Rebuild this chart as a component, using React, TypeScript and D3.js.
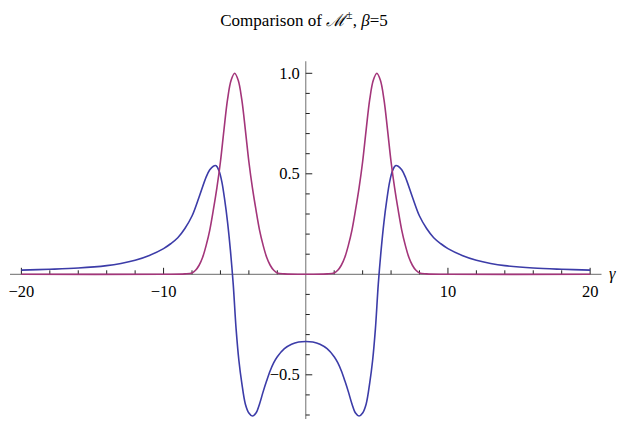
import React from "react";
import * as d3 from "d3";

// blue curve
const blueGamma = [
  -20, -18, -16, -14, -13, -12, -11, -10, -9.5, -9, -8.5, -8, -7.5, -7, -6.75, -6.5, -6.3, -6.1, -5.9, -5.7,
  -5.5, -5.3, -5.1, -4.9, -4.7, -4.5, -4.25, -4, -3.75, -3.5, -3.25, -3, -2.75, -2.5, -2.25, -2, -1.5, -1, -0.5,
  0,
  0.5, 1, 1.5, 2, 2.25, 2.5, 2.75, 3, 3.25, 3.5, 3.75, 4, 4.25, 4.5, 4.7, 4.9, 5.1, 5.3, 5.5, 5.7, 5.9, 6.1,
  6.3, 6.5, 6.75, 7, 7.5, 8, 8.5, 9, 9.5, 10, 11, 12, 13, 14, 16, 18, 20,
];
const blueValues = [
  0.021, 0.025, 0.031, 0.043, 0.054, 0.07, 0.094, 0.128, 0.152, 0.182, 0.228, 0.29, 0.385, 0.485, 0.52, 0.538,
  0.54, 0.515, 0.46, 0.37, 0.26, 0.12, -0.05, -0.27, -0.43, -0.54, -0.645, -0.69, -0.705, -0.69, -0.645,
  -0.585, -0.53, -0.48, -0.44, -0.41, -0.37, -0.348, -0.337,
  -0.334,
  -0.337, -0.348, -0.37, -0.41, -0.44, -0.48, -0.53, -0.585, -0.645, -0.69, -0.705, -0.69, -0.645, -0.54,
  -0.43, -0.27, -0.05, 0.12, 0.26, 0.37, 0.46, 0.515, 0.54, 0.538, 0.52, 0.485, 0.385, 0.29, 0.228, 0.182,
  0.152, 0.128, 0.094, 0.07, 0.054, 0.043, 0.031, 0.025, 0.021,
];

// magenta curve
const magentaGamma = [
  -20, -10, -8.5, -8, -7.75, -7.5, -7.25, -7, -6.75, -6.5, -6.25, -6, -5.75, -5.5, -5.25, -5, -4.75, -4.5,
  -4.25, -4, -3.75, -3.5, -3.25, -3, -2.75, -2.5, -2.25, -2, -1.5,
  0,
  1.5, 2, 2.25, 2.5, 2.75, 3, 3.25, 3.5, 3.75, 4, 4.25, 4.5, 4.75, 5, 5.25, 5.5, 5.75, 6, 6.25, 6.5, 6.75, 7,
  7.25, 7.5, 7.75, 8, 8.5, 10, 20,
];
const magentaValues = [
  0, 0, 0.002, 0.007, 0.02, 0.045, 0.085, 0.145, 0.22, 0.32, 0.43, 0.56, 0.72, 0.87, 0.965, 1.0, 0.965, 0.87,
  0.72, 0.56, 0.43, 0.32, 0.22, 0.145, 0.085, 0.045, 0.02, 0.007, 0.002,
  0,
  0.002, 0.007, 0.02, 0.045, 0.085, 0.145, 0.22, 0.32, 0.43, 0.56, 0.72, 0.87, 0.965, 1.0, 0.965, 0.87, 0.72,
  0.56, 0.43, 0.32, 0.22, 0.145, 0.085, 0.045, 0.02, 0.007, 0.002, 0, 0,
];

const xMajor = [-20, -10, 10, 20];
const xMajorLabels = ["\u221220", "\u221210", "10", "20"];
const xMinor = [-18, -16, -14, -12, -8, -6, -4, -2, 2, 4, 6, 8, 12, 14, 16, 18];
const yMajor = [-0.5, 0.5, 1.0];
const yMajorLabels = ["\u22120.5", "0.5", "1.0"];
const yMinor = [-0.7, -0.6, -0.4, -0.3, -0.2, -0.1, 0.1, 0.2, 0.3, 0.4, 0.6, 0.7, 0.8, 0.9];

const W = 624;
const H = 426;
const serifStyle = { fontFamily: "'Liberation Serif', 'DejaVu Serif', 'Times New Roman', Times, serif" };

export default function App() {
  const x = d3.scaleLinear().domain([-20.8, 20.8]).range([10, 601.5]);
  const y = d3.scaleLinear().domain([0, 1]).range([274.3, 73.3]);

  const line = d3
    .line<[number, number]>()
    .x((d) => x(d[0]))
    .y((d) => y(d[1]))
    .curve(d3.curveCatmullRom.alpha(0.5));

  const bluePts = blueGamma.map((g, i) => [g, blueValues[i]] as [number, number]);
  const magPts = magentaGamma.map((g, i) => [g, magentaValues[i]] as [number, number]);

  const x0 = x(0);
  const y0 = y(0);

  return (
    <svg width={W} height={H} style={{ position: "absolute", left: 0, top: 0, background: "#fff" }}>
      <text x={304} y={26} textAnchor="middle" style={serifStyle} fontSize={17} fill="#000">
        Comparison of{" "}
        <tspan fontStyle="italic">{"\u2133"}</tspan>
        <tspan fontSize={12} dy={-7}>{"\u00b1"}</tspan>
        <tspan dy={7}>, </tspan>
        <tspan fontStyle="italic">{"\u03b2"}</tspan>
        <tspan>=5</tspan>
      </text>

      {/* axes */}
      <line x1={x(-20.8)} x2={x(20.8)} y1={y0} y2={y0} stroke="#888" strokeWidth={1.2} />
      <line x1={x0} x2={x0} y1={y(1.06)} y2={y(-0.72)} stroke="#888" strokeWidth={1.2} />

      {xMinor.map((t) => (
        <line key={"xm" + t} x1={x(t)} x2={x(t)} y1={y0} y2={y0 - 4} stroke="#222" strokeWidth={1} />
      ))}
      {xMajor.map((t, i) => (
        <g key={"xM" + t}>
          <line x1={x(t)} x2={x(t)} y1={y0} y2={y0 - 6.5} stroke="#222" strokeWidth={1} />
          <text x={x(t)} y={297} textAnchor="middle" style={serifStyle} fontSize={16.5} fill="#000">
            {xMajorLabels[i]}
          </text>
        </g>
      ))}
      {yMinor.map((t) => (
        <line key={"ym" + t} x1={x0} x2={x0 + 4} y1={y(t)} y2={y(t)} stroke="#222" strokeWidth={1} />
      ))}
      {yMajor.map((t, i) => (
        <g key={"yM" + t}>
          <line x1={x0} x2={x0 + 6.5} y1={y(t)} y2={y(t)} stroke="#222" strokeWidth={1} />
          <text x={x0 - 6} y={y(t) + 5.5} textAnchor="end" style={serifStyle} fontSize={16.5} fill="#000">
            {yMajorLabels[i]}
          </text>
        </g>
      ))}

      <text x={609} y={279} style={serifStyle} fontStyle="italic" fontSize={16.5} fill="#000">
        {"\u03b3"}
      </text>

      <path d={line(bluePts) ?? ""} fill="none" stroke="#3c3ca8" strokeWidth={1.6} />
      <path d={line(magPts) ?? ""} fill="none" stroke="#a3357a" strokeWidth={1.6} />
    </svg>
  );
}
